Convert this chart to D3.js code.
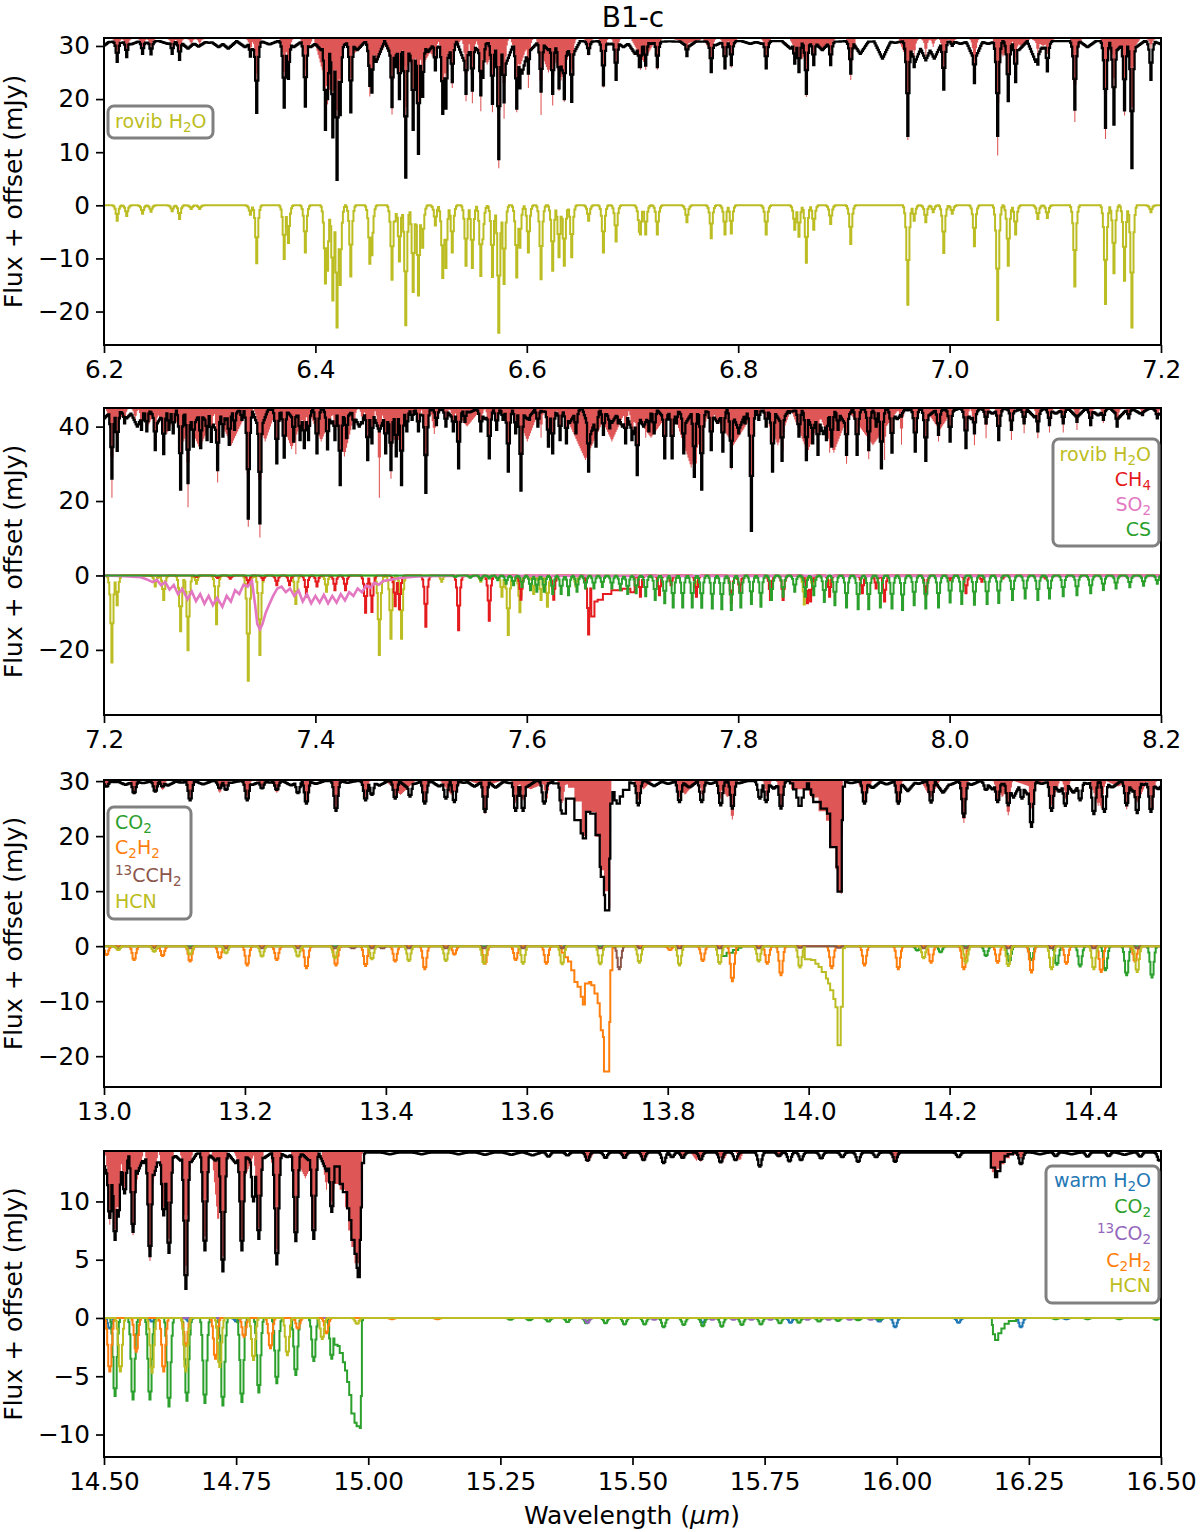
<!DOCTYPE html>
<html>
<head>
<meta charset="utf-8">
<script src="https://cdn.jsdelivr.net/npm/d3@7"></script>
<style>
  html, body { margin: 0; padding: 0; background: #fff; }
  text { font-family: "DejaVu Sans", sans-serif; }
</style>
</head>
<body>
<div id="vis"></div>
<script>
// lines: [wavelength, value at the bottom of a narrow dip]
// bands: [wavelength, value at the bottom, half width] for broad shallow dips
// ripple: [wavelength, value] small continuum dips, half width from the neighbours
// holds: [wavelength, level kept until the next entry], used for the Q branches

// --- panel A, 6.2 - 7.2 um: wavelength, rovib H2O, observed, model
const rowsA = [
  [6.212,-2.9,27,27.5],[6.221,-2,27.9,28.2],[6.236,-1.6,28.5,28.8],[6.244,-1.2,28.4,29],[6.264,-1.1,28.5,29.2],
  [6.271,-2.6,27.4,27.8],[6.282,-.7,30,30.2],[6.29,-.7,30,30.2],[6.338,-1.8,28,28.5],[6.344,-10.9,17.4,19.5],
  [6.37,-10.1,18.4,20],[6.374,-7.1,23.8,24],[6.39,-8.9,18.6,21],[6.409,-14.7,14.2,16],[6.411,-12.3,20,19],
  [6.416,-17.9,12.8,13.5],[6.42,-23,4.8,7],[6.4225,-15,17,17.5],[6.433,-13.4,17.5,18],[6.451,-11,22.5,20.5],
  [6.453,-9.4,21.2,21.5],[6.472,-14,18.5,17.1],[6.475,-3,26,27],[6.479,-10.6,20,20.5],[6.485,-22.6,5.2,8],
  [6.4925,-16.3,14.2,14.5],[6.497,-17,9.7,13.5],[6.501,-8,20.4,22.5],[6.513,-3.8,25.4,27],[6.52,-13.7,17.2,17.5],
  [6.523,-11.8,18.2,19.5],[6.5295,-8.9,23.2,22.1],[6.542,-11.4,21,19.6],[6.548,-11.8,21.6,19.2],[6.556,-13.3,20.7,17.7],
  [6.558,-6.4,24,24.5],[6.567,-13.5,19.1,17.5],[6.573,-24,8.7,7],[6.578,-14.8,19.4,16.3],[6.59,-13.6,18.2,17.5],
  [6.593,-8,22,23],[6.601,-8.9,24.8,22.1],[6.613,-13.9,21.4,17],[6.624,-12.3,21,18.8],[6.63,-9.8,22,21.5],
  [6.635,-11.4,20,19.5],[6.642,-9.8,19.5,21],[6.658,-2.9,28.5,28.2],[6.672,-8.9,22.6,22.2],[6.684,-6.8,23.6,24],
  [6.706,-5,26,27],[6.7075,-5.5,26,25.5],[6.712,-5.5,26.3,25.5],[6.723,-5.5,26,25.5],[6.751,-3.2,28.1,28],
  [6.774,-6.2,25.1,25],[6.787,-5.5,25.8,25.5],[6.793,-5.3,26.4,25.9],[6.826,-5.5,25.8,25.6],[6.853,-4.6,26.7,26.5],
  [6.857,-5.9,25.1,25],[6.864,-10.8,21,20.4],[6.871,-4.6,26.4,26.4],[6.887,-3.5,26.4,27.5],[6.906,-7.3,24.8,23.6],
  [6.96,-18.7,13.1,12.3],[6.966,-2.9,26,27.5],[6.977,-3.2,27.3,28],[6.984,-1.3,29.5,29.8],[6.994,-9,21.8,22.2],
  [7.002,-1.6,30,29.8],[7.023,-7.7,23,23.5],[7.045,-21.6,13.1,9.4],[7.055,-11.4,19.6,19.8],[7.062,-5.5,23.2,25],
  [7.083,-2.6,26.5,28],[7.092,-2.4,25.2,28.5],[7.118,-15.3,18,15.7],[7.147,-18.6,14.6,12.5],[7.155,-12.8,15.2,18],
  [7.165,-14.2,17.9,16.9],[7.172,-23,7,8],[7.19,-1.3,23.6,29.5]
];
const obsRippleA = [
  [6.2,30.1],[6.205,30.75],[6.216,30.6],[6.225,30.3],[6.232,30.9],[6.24,30.6],[6.25,31.1],[6.26,30.4],
  [6.273,30.4],[6.279,29.5],[6.289,29.9],[6.299,30.6],[6.308,29.8],[6.317,29.5],[6.325,30.9],[6.333,29.8],[6.341,29.2],
  [6.348,30.9],[6.356,30.3],[6.365,31.2],[6.379,29.8],[6.385,31.1],[6.395,29.8],[6.405,29.2],[6.413,31.1],[6.424,29.8],
  [6.439,29.2],[6.447,31.1],[6.457,27],[6.466,31.1],[6.473,27.3],[6.481,29.2],[6.489,28.2],[6.506,28.9],[6.514,29.5],
  [6.517,31.1],[6.523,26.7],[6.535,30.9],[6.541,26.7],[6.553,29.2],[6.561,30.4],[6.571,31.2],[6.58,26.7],[6.587,30.8],
  [6.595,24.8],[6.603,29.2],[6.611,30.8],[6.62,29.2],[6.633,25.4],[6.642,27.9],[6.646,30.9],[6.659,30.8],[6.665,31.2],
  [6.678,30.3],[6.691,29.8],[6.702,28.5],[6.717,30.4],[6.728,30.8],[6.741,30.8],[6.752,29.8],[6.765,30.8],[6.778,30.1],
  [6.798,31.1],[6.811,30.4],[6.822,30.4],[6.834,31.1],[6.849,29.5],[6.87,30.1],[6.879,29.2],[6.893,30.8],[6.909,31.1],
  [6.915,28.5],[6.925,30.8],[6.936,27.6],[6.948,30.6],[6.954,31.2],[6.967,27],[6.977,27.3],[6.985,27.6],[6.998,30.8],
  [7.01,30.4],[7.023,27.3],[7.036,30.4],[7.042,31.1],[7.065,29.2],[7.081,27],[7.088,29.5],[7.104,31.1],[7.13,29.8],
  [7.143,31.1],[7.158,29.2],[7.176,29.8],[7.192,30.8],[7.2,30.3]
];
const modelBandsA = [
  [6.371,29,.005],[6.391,28.5,.006],[6.412,21,.014],[6.436,28.5,.014],[6.458,27,.01],[6.475,26,.012],[6.49,26.5,.012],[6.503,27,.012],
  [6.51,28,.007],[6.526,28,.012],[6.562,26.5,.011],[6.593,26,.009],[6.62,25,.012],[6.632,23.5,.012],[6.71,27,.012],[6.752,30.5,.014],
  [6.772,29.5,.006],[6.795,29.5,.004],[6.827,29.5,.004],[6.86,27.5,.012],[6.88,29,.01],[6.907,28,.004],[6.96,27,.009],[7.05,28,.01],
  [7.067,30,.009],[7.088,30,.011],[7.12,29,.005],[7.155,28,.012],[7.168,28,.012]
];

// --- panel B, 7.2 - 8.2 um
const h2oB = [
  [7.2068,-23.4],[7.2124,-8],[7.248,-3],[7.2564,-6.6],[7.2717,-15],[7.279,-20.1],[7.287,-2.2],[7.3065,-13.1],[7.336,-28.3],
  [7.347,-21.4],[7.381,-7.7],[7.41,-4.4],[7.46,-21.4],[7.4707,-17],[7.4814,-17],[7.519,-1.7],[7.556,-1.7],[7.5756,-5.7],
  [7.582,-16],[7.5935,-9.9],[7.606,-5],[7.613,-6.6],[7.619,-8.4],[7.6456,-3],[7.76,-3],[7.862,-7.8],[7.87,-3.5],[7.886,-2.5]
];
const ch4LinesB = [
  [7.287,-.4],[7.307,-.7],[7.319,-.9],[7.336,-2.2],[7.35,-1.2],[7.363,-2.6],[7.375,-2.6],[7.391,-5.7],[7.401,-3],[7.418,-4],
  [7.428,-4],[7.447,-10],[7.4534,-9.8],[7.475,-8.3],[7.4795,-9.1],[7.504,-13.8],[7.5345,-14.7],[7.564,-12.2],[7.594,-6.5],
  [7.625,-6.5],[7.658,-15.9],[7.707,-5.7],[7.725,-5.3],[7.736,-2.6],[7.76,-5.7],[7.793,-7.4],[7.801,-4.4],[7.83,-6.6],
  [7.842,-6.6],[7.865,-7.5],[7.868,-7],[7.886,-5.7],[7.917,-4.8],[7.93,-3.5],[7.938,-7],[7.977,-5.3],[8,-1.3],[8.015,-4.8],
  [8.03,-1.7],[8.05,-.8],[8.09,-.8]
];
const ch4HoldsB = [[7.661,-11],[7.664,-7],[7.667,-6.5],[7.672,-5],[7.68,-4],[7.69,-3.6],[7.698,-4.5],[7.702,0]];
const so2B = [
  [7.2,0],[7.22,-.2],[7.235,-.5],[7.24,-1],[7.246,-1.8],[7.25,-1.2],[7.254,-2.6],[7.258,-1.8],[7.262,-3.8],[7.266,-2.6],
  [7.27,-5],[7.274,-3.6],[7.279,-6.4],[7.283,-4.3],[7.287,-6.9],[7.291,-5],[7.295,-7.6],[7.299,-5.5],[7.303,-8],[7.307,-6],
  [7.312,-8.4],[7.316,-5.5],[7.32,-7],[7.324,-4],[7.328,-5],[7.332,-2.5],[7.336,-3],[7.34,-1.5],[7.343,-8],[7.345,-13],
  [7.3475,-14.5],[7.35,-13],[7.353,-10],[7.356,-8],[7.36,-5.5],[7.364,-3.5],[7.368,-3],[7.372,-4.5],[7.376,-3.5],[7.38,-5.5],
  [7.384,-4],[7.388,-7],[7.392,-5],[7.396,-7.5],[7.4,-5.5],[7.404,-7.3],[7.408,-5.2],[7.412,-7.5],[7.416,-5.5],[7.42,-7.3],
  [7.424,-5],[7.428,-6.7],[7.432,-4.5],[7.436,-5.5],[7.44,-3.5],[7.444,-4.5],[7.448,-2.7],[7.452,-3.3],[7.456,-2],[7.46,-2.5],
  [7.464,-1.5],[7.47,-1.2],[7.48,-.7],[7.5,-.2],[7.52,-.1],[8.2,-.1]
];
const csB = [
  [7.532,-.4],[7.546,-.6],[7.556,-1.3],[7.564,-.8],[7.572,-1.3],[7.58,-2.2],[7.587,-2.6],[7.595,-3.1],[7.603,-4],[7.609,-4.4],
  [7.616,-4.4],[7.624,-5],[7.632,-5],[7.639,-5.3],[7.647,-4.4],[7.655,-3.5],[7.663,-3.5],[7.671,-3.1],[7.68,-3.5],[7.688,-4],
  [7.695,-5],[7.703,-4.8],[7.712,-5.6],[7.721,-6.6],[7.73,-7.5],[7.738,-8.6],[7.747,-8.6],[7.756,-8.6],[7.765,-8.7],[7.775,-8.9],
  [7.784,-9.1],[7.793,-9.3],[7.802,-8.6],[7.812,-7.7],[7.821,-8.4],[7.831,-6.6],[7.842,-5.7],[7.853,-4.4],[7.863,-5.7],
  [7.871,-5.3],[7.881,-7.1],[7.891,-8],[7.902,-8.6],[7.913,-9.1],[7.923,-9.1],[7.934,-8.6],[7.945,-8.9],[7.955,-9.3],[7.966,-8],
  [7.977,-8.9],[7.989,-8.6],[8,-7.3],[8.011,-7.7],[8.023,-7.9],[8.035,-7.7],[8.046,-7.4],[8.059,-6.6],[8.071,-6.2],[8.083,-6.6],
  [8.094,-6.2],[8.107,-5.6],[8.12,-5.3],[8.133,-4.8],[8.145,-3.9],[8.157,-3.5],[8.17,-3.2],[8.183,-2.8],[8.196,-2.2]
];
const obsLinesB = [
  [7.2068,26],[7.2124,33.5],[7.219,40.9],[7.229,41.3],[7.235,39.1],[7.24,38.7],[7.248,33.7],[7.256,32.6],[7.261,39.1],[7.265,38.2],
  [7.272,23.1],[7.279,24.8],[7.284,34.6],[7.291,34.2],[7.297,36.4],[7.301,35.9],[7.307,28.3],[7.312,37.3],[7.318,35.1],
  [7.323,39.1],[7.33,41.8],[7.336,15.3],[7.347,14],[7.363,30.1],[7.37,31.7],[7.379,36],[7.385,36.4],[7.389,34.2],[7.393,36.4],
  [7.401,32.8],[7.411,33.9],[7.418,36.4],[7.423,24.3],[7.429,36.9],[7.436,39.5],[7.444,40.9],[7.449,31],[7.453,35.5],
  [7.466,32.8],[7.471,28.3],[7.476,32],[7.481,24.3],[7.486,38.7],[7.491,41.8],[7.497,38.7],[7.504,22.2],[7.514,40.4],
  [7.523,40],[7.53,38.7],[7.535,28.8],[7.541,41.3],[7.556,38.7],[7.564,31.5],[7.571,39.1],[7.577,41.8],[7.582,27.9],
  [7.589,38.2],[7.594,22.8],[7.602,41.8],[7.61,40],[7.62,34.6],[7.624,32.8],[7.631,36.4],[7.637,35.5],[7.646,38.2],
  [7.658,27.9],[7.665,34.6],[7.672,37.8],[7.678,39.5],[7.686,40.9],[7.693,35.5],[7.699,36.4],[7.7,38.2],[7.704,27],
  [7.71,40.9],[7.715,38.7],[7.72,38.2],[7.73,31.5],[7.737,31.5],[7.741,40.9],[7.748,32.8],[7.758,26.5],[7.765,23.1],
  [7.774,33.7],[7.785,33.3],[7.793,29.2],[7.8,38.2],[7.806,40.9],[7.812,12],[7.819,41.8],[7.826,40],[7.832,27.9],[7.841,30.8],
  [7.848,43.6],[7.857,37.3],[7.864,31],[7.87,35.5],[7.875,32.4],[7.883,36.4],[7.888,34.6],[7.894,39.1],[7.902,32.4],[7.912,32.4],
  [7.923,33.7],[7.93,40],[7.935,28.8],[7.945,33],[7.954,42.7],[7.967,33.3],[7.977,30.8],[7.989,37.8],[8,36],[8.015,34.2],
  [8.023,38.2],[8.034,40.9],[8.046,36.4],[8.058,39.1],[8.07,40.9],[8.083,38.7],[8.094,40.4],[8.107,40.9],[8.12,41.3],
  [8.133,40.4],[8.145,41.8],[8.158,40],[8.169,42.2],[8.182,43.1],[8.196,42.2]
];
const obsRippleB = [
  [7.2,42.2],[7.208,42.7],[7.215,44],[7.221,42.2],[7.231,40],[7.24,43.6],[7.25,40.9],[7.264,44.5],[7.274,42.7],[7.284,40],
  [7.295,41.8],[7.305,39.1],[7.315,41.8],[7.323,43.6],[7.331,44.5],[7.347,38.7],[7.357,44.5],[7.366,43.6],[7.379,41.8],
  [7.389,40],[7.402,44.5],[7.415,40.9],[7.428,41.8],[7.441,40],[7.46,38.7],[7.47,40],[7.49,44],[7.5,43],[7.51,44.5],[7.53,42],
  [7.545,43.8],[7.56,42],[7.575,44.5],[7.6,42],[7.615,44],[7.63,43],[7.64,41],[7.66,38],[7.68,41],[7.69,40],[7.7,38],[7.71,40],
  [7.73,42],[7.74,44],[7.75,41],[7.77,44],[7.78,41],[7.8,39],[7.81,43],[7.82,44],[7.84,41],[7.85,44],[7.87,39],[7.88,38],[7.9,41],
  [7.93,44],[7.95,42],[7.96,44.4],[7.98,43],[8,44],[8.02,42],[8.04,43.5],[8.06,44],[8.08,42.5],[8.1,43.5],[8.12,42.5],[8.14,43],
  [8.16,42.5],[8.18,43.5],[8.2,43]
];
const modelLinesB = [
  [7.2068,20.9],[7.212,36],[7.248,41],[7.256,37],[7.272,29],[7.279,18.3],[7.307,25],[7.336,13.1],[7.347,10.2],[7.381,32.6],
  [7.41,38],[7.46,20.9],[7.471,26],[7.481,26],[7.504,30],[7.535,30],[7.564,32.5],[7.582,27.9],[7.594,31],[7.613,37],[7.619,36],
  [7.658,28],[7.712,37],[7.73,35],[7.76,30.1],[7.793,28.5],[7.83,36],[7.842,33.5],[7.865,33],[7.886,33],[7.902,30],[7.923,31.2],
  [7.938,31],[7.954,35.1],[7.977,34],[7.989,36],[8.015,37],[8.023,35],[8.034,36.9],[8.058,36.4],[8.07,38.2],[8.083,36.9],
  [8.094,38.4],[8.107,38.4],[8.12,39.1],[8.133,40],[8.145,41],[8.158,40.5],[8.17,42.5],[8.183,43],[8.196,42.5]
];
const modelBandsB = [
  [7.21,38,.009],[7.241,40,.008],[7.259,38,.011],[7.275,36,.012],[7.29,34,.016],[7.32,35,.016],[7.352,36,.011],[7.377,34,.014],[7.405,36,.013],
  [7.427,32,.011],[7.476,35,.014],[7.512,38,.004],[7.543,40,.014],[7.6,36,.012],[7.655,31,.022],[7.68,36,.014],[7.717,37,.02],[7.755,29,.018],
  [7.795,35,.022],[7.837,35,.013],[7.865,33,.016],[7.89,33,.016],[7.927,35,.025],[7.99,39,.014]
];

// --- panel C, 13.0 - 14.5 um
const co2C = [[14.153,-.8],[14.187,-1.1],[14.251,-1.8],[14.284,-2.8],[14.316,-2.5],[14.351,-3.4],[14.384,-3.7],[14.42,-4.4],[14.451,-5.3],[14.487,-5.7]];
const co2HoldsC = [[13.877,-1.8],[13.884,-1.2],[13.892,-.7],[13.9,-.3],[13.905,0]];
const c2h2C = [
  [13.003,-1.6],[13.042,-2.5],[13.082,-1.8],[13.122,-2.8],[13.163,-2.2],[13.203,-3.5],[13.244,-2.5],[13.286,-4],[13.328,-3.5],
  [13.37,-3.6],[13.412,-2.8],[13.454,-4.2],[13.496,-1.5],[13.54,-3.2],[13.583,-2.5],[13.627,-3.2],[13.803,-.7],[13.849,-2.7],
  [13.891,-6.4],[13.94,-3.2],[13.96,-5.3],[14.032,-4],[14.079,-3.5],[14.126,-4.2],[14.173,-3],[14.219,-4.2],[14.267,-3],
  [14.316,-4.8],[14.365,-3.2],[14.414,-4.7],[14.463,-2.8]
];
const c2h2HoldsC = [
  [13.649,-1.2],[13.654,-2],[13.659,-2.8],[13.663,-4.4],[13.668,-6.5],[13.672,-7.4],[13.676,-9.2],[13.679,-10.6],[13.682,-6.8],
  [13.688,-6.5],[13.692,-7.1],[13.696,-8.6],[13.7,-10.4],[13.703,-12.8],[13.705,-15.3],[13.708,-16.5],[13.709,-22.8],[13.717,-13.8],
  [13.719,-4.4],[13.721,-.4],[13.723,0]
];
const brownC = [
  [13.02,-.4],[13.071,-.4],[13.122,-.4],[13.173,-.4],[13.223,-.4],[13.275,-.4],[13.327,-.4],[13.353,-.4],[13.38,-.4],[13.395,-.4],
  [13.432,-.4],[13.485,-.4],[13.539,-.4],[13.594,-.4],[13.649,-.4],[13.704,-.4],[13.73,-4.2],[13.76,-.4],[13.816,-.4],[13.873,-.4],
  [13.929,-.4],[13.987,-.3],[14.042,-.3],[14.163,-.4],[14.222,-.4],[14.283,-.4],[14.344,-.4],[14.404,-.4],[14.466,-.4]
];
const hcnC = [
  [13.02,-.7],[13.071,-1],[13.122,-1.5],[13.173,-1.3],[13.223,-1.9],[13.275,-1.9],[13.327,-2.2],[13.38,-2.4],[13.432,-2.7],[13.485,-2.7],
  [13.539,-3.2],[13.594,-3.2],[13.649,-3.3],[13.704,-3.3],[13.759,-3],[13.816,-3.5],[13.873,-3.2],[13.929,-2.8],[13.987,-3.9],
  [14.163,-2.2],[14.222,-3],[14.283,-3.6],[14.344,-4.2],[14.404,-4.2],[14.466,-4.7]
];
const hcnHoldsC = [
  [13.995,-2.4],[14,-2.4],[14.004,-2.5],[14.009,-3.2],[14.014,-3.8],[14.019,-4.7],[14.024,-5.9],[14.028,-6.8],[14.031,-8],[14.035,-9.6],
  [14.038,-11.1],[14.041,-18],[14.046,-11],[14.049,-.4],[14.051,0]
];
const obsLinesC = [
  [13.003,29],[13.042,27.8],[13.072,28.1],[13.082,29],[13.122,26.5],[13.163,28.7],[13.173,28.4],[13.203,26.5],[13.223,28.7],
  [13.244,28.4],[13.275,27.8],[13.286,25.9],[13.328,24.6],[13.37,26.5],[13.38,27.5],[13.412,26.8],[13.434,27.2],[13.454,25.9],
  [13.485,26.8],[13.496,26.2],[13.54,24.4],[13.583,24.6],[13.594,24.6],[13.624,25.9],[13.649,24.1],[13.758,25.6],[13.816,26.2],
  [13.848,26.2],[13.874,25.6],[13.891,25],[13.93,26.8],[13.939,26.2],[13.96,25],[14.078,25.9],[14.126,25.9],
  [14.173,26.1],[14.219,23.5],[14.251,28.4],[14.267,26.2],[14.283,25.6],[14.302,26.8],[14.316,21.7],[14.344,24.6],[14.363,25.5],
  [14.384,26.5],[14.404,24],[14.419,24.4],[14.451,25.6],[14.466,24.2],[14.485,24.4]
];
const obsRippleC = [
  [13,29.4],[13.015,29.8],[13.03,29.3],[13.055,29.6],[13.09,29.2],[13.11,29.7],[13.14,29.4],[13.18,29.7],[13.21,29.3],[13.235,29.7],
  [13.265,29.2],[13.3,29.5],[13.345,29.7],[13.39,29.2],[13.43,28.8],[13.44,29.5],[13.475,29],[13.51,29.7],[13.525,29],[13.555,28.8],
  [13.575,29.6],[13.6,29],[13.63,29.6],[13.75,29.6],[13.78,29.1],[13.8,29.5],[13.83,28.8],[13.86,29.5],[13.9,29.6],[13.95,28.6],
  [14.06,29.6],[14.09,28.7],[14.11,29.4],[14.14,28.2],[14.155,29.5],[14.19,27.8],[14.2,29.3],[14.23,29.3],
  [14.26,28.5],[14.275,29.4],[14.29,27],[14.31,27.5],[14.33,29.5],[14.355,28],[14.375,27.8],[14.395,29.5],[14.43,28.8],[14.46,28],
  [14.475,29.3],[14.495,28.5]
];
const obsHoldsC = [
  [13.638,29.6],[13.646,26.5],[13.651,24.1],[13.656,26.8],[13.668,22.9],[13.676,20.5],[13.679,19.6],[13.684,24.4],[13.69,24.1],
  [13.698,20.2],[13.703,14.4],[13.705,12.6],[13.71,9.3],[13.711,6.5],[13.717,15.9],[13.719,25.9],[13.721,28],[13.725,26.5],[13.728,25.9],
  [13.732,27.2],[13.737,28.4],[13.746,30.2],
  [13.974,29.6],[13.978,28.5],[13.982,27],[13.986,25.5],[13.99,27],[13.993,28.5],[13.997,29.6],[14,28.5],[14.004,27.5],[14.007,26.2],
  [14.017,25],[14.026,24.1],[14.031,18],[14.039,14.4],[14.041,9.9],[14.047,22.9],[14.049,29],[14.052,30.2]
];
const modelLinesC = [
  [13.003,29.3],[13.042,27.6],[13.072,28.3],[13.082,28.4],[13.122,27],[13.163,27.9],[13.173,29],[13.203,27],[13.223,29],[13.244,27.9],
  [13.286,26.2],[13.328,24.9],[13.37,26.4],[13.412,27],[13.454,26],[13.496,28],[13.54,24],[13.583,26],[13.594,26.5],[13.627,26.5],
  [13.649,26],[13.758,26.5],[13.816,27],[13.849,27.4],[13.873,26.5],[13.891,23],[13.94,27],[13.96,25],[14.079,26],[14.126,25.6],
  [14.173,27],[14.219,22.4],[14.267,26.5],[14.283,23.8],[14.316,25],[14.344,25.5],[14.365,26.5],[14.414,25],[14.451,24.9],
  [14.463,27],[14.487,24.6]
];
const modelBandsC = [
  [13.42,27.5,.022],[13.492,27.5,.016],[13.54,29,.024],[13.605,28.5,.028],[13.765,28.5,.012],[13.824,27.5,.016],[13.884,27,.016],
  [14.079,27,.011],[14.172,27,.014],[14.274,27,.013],[14.313,29,.024],[14.346,26.5,.01],[14.41,25.5,.012],[14.438,29,.018],[14.466,26,.014]
];
const modelHoldsC = [
  [13.644,29.4],[13.659,28.8],[13.668,26.3],[13.678,20],[13.685,24.4],[13.698,19.9],[13.705,13.8],[13.71,10],[13.715,7],[13.718,15.9],
  [13.719,25.7],[13.72,30.3],[13.975,28.5],[14,27.5],[14.004,27],[14.014,24.5],[14.024,22.8],[14.031,18],[14.038,14],[14.041,10],
  [14.045,9.5],[14.047,20],[14.049,30.3],[14.05,30.3]
];

// --- panel D, 14.5 - 16.5 um
const blueD = [[14.51,-.9],[14.59,-.3],[14.66,-.3],[14.75,-.3],[15.632,-.4],[15.798,-.4],[15.966,-.3],[15.996,-.8],[16.116,-.4],[16.233,-.8],[16.32,-.1]];
const co2D = [
  [14.519,-6.7],[14.554,-7],[14.586,-7],[14.621,-7.6],[14.656,-7.1],[14.689,-7.3],[14.724,-7.5],[14.759,-7.2],[14.793,-6.4],[14.826,-5.6],
  [14.861,-4.9],[14.896,-3.7],[14.931,-3.5],[15.268,-.15],[15.304,-.2],[15.34,-.3],[15.376,-.35],[15.412,-.45],[15.449,-.45],
  [15.485,-.55],[15.521,-.55],[15.559,-.8],[15.595,-.6],[15.632,-.7],[15.668,-.75],[15.706,-.6],[15.742,-.55],[15.778,-.45],
  [15.815,-.4],[15.852,-.3],[15.888,-.25],[15.927,-.2],[15.966,-.15],[16.3,-.1],[16.36,-.1],[16.42,-.1],[16.49,-.15]
];
const co2HoldsD = [
  [14.937,-2.3],[14.941,-2.4],[14.946,-3],[14.951,-3.8],[14.956,-4.5],[14.96,-5.5],[14.964,-6.6],[14.968,-8.2],[14.973,-9],[14.978,-9.3],
  [14.984,-9.45],[14.986,-6.7],[14.988,-.2],[14.99,0],
  [16.18,-.6],[16.182,-1.4],[16.186,-1.9],[16.192,-1.3],[16.198,-.9],[16.204,-.5],[16.212,-.25],[16.225,0]
];
const c13D = [[15.415,-.4],[15.54,-.15],[15.65,-.15],[15.69,-.15],[15.725,-.15],[15.76,-.15],[15.83,-.15],[15.87,-.15],[15.91,-.15],[15.95,-.15]];
const c2h2D = [[14.511,-4.6],[14.561,-2.9],[14.611,-4.6],[14.655,-2.4],[14.71,-3.5],[14.764,-1.6],[14.815,-2.6],[14.866,-.9],[14.921,-1.3],[15.045,-.1],[15.13,-.1]];
const hcnD = [[14.53,-4.6],[14.59,-4.7],[14.655,-4.6],[14.719,-4.2],[14.782,-3.6],[14.847,-3.2],[14.912,-1.8],[14.978,-.5]];
const obsLinesD = [
  [14.51,8.6],[14.519,6.7],[14.527,8.7],[14.538,10.7],[14.554,7.4],[14.587,5.3],[14.611,8.8],[14.621,5.6],[14.654,2.5],[14.689,5.8],
  [14.724,4],[14.759,5.8],[14.782,10],[14.793,6.8],[14.826,4.6],[14.861,6.6],[14.896,6.8],[14.931,9.1],[15.34,13.85],[15.375,13.95],
  [15.413,13.5],[15.448,13.75],[15.484,13.75],[15.52,13.55],[15.557,13.3],[15.574,13.8],[15.593,13.75],[15.629,13.6],[15.666,13.35],
  [15.694,13.55],[15.74,13],[15.775,13.9],[15.796,13.45],[15.817,13.55],[15.855,13.7],[15.896,13.8],[15.927,13.4],[15.96,13.8],
  [15.997,13.4],[16.116,13.8],[16.233,13.2],[16.3,13.9],[16.36,13.85],[16.4,13.9],[16.46,13.85],[16.495,13.5]
];
const obsRippleD = [
  [14.502,12.7],[14.508,11.8],[14.533,12.4],[14.546,14],[14.562,12.4],[14.574,13.3],[14.581,14.3],[14.593,12.1],[14.603,13.3],
  [14.628,13.7],[14.644,13.5],[14.65,14.3],[14.663,13.3],[14.675,14.1],[14.697,14.1],[14.71,13.5],[14.735,14.1],[14.748,13.3],
  [14.764,13.7],[14.776,13.5],[14.801,13.7],[14.82,14.1],[14.846,13.8],[14.871,14],[14.887,13.5],[14.905,14.1],[14.921,12.5],
  [15.04,14.05],[15.1,14.05],[15.17,14.05],[15.22,14],[15.27,14],[15.31,13.95],[16.27,14.05],[16.33,14.05],[16.43,14]
];
const obsHoldsD = [
  [14.937,13],[14.946,11.5],[14.951,10.8],[14.96,9.4],[14.964,8.4],[14.968,6.7],[14.973,5.5],[14.978,4.3],[14.981,3.5],[14.984,6.7],
  [14.986,9.5],[14.988,13.3],[14.992,14.1],[14.995,14.3],
  [16.178,12.9],[16.186,12.1],[16.19,12.6],[16.196,13.4],[16.205,13.9],[16.21,14.05],[16.22,14.3]
];
const modelLinesD = [
  [14.51,8],[14.519,6.9],[14.527,9],[14.538,11],[14.554,7.1],[14.587,4.9],[14.611,9],[14.621,6],[14.654,3.4],[14.689,6.2],[14.724,4.3],
  [14.759,6],[14.793,7],[14.826,5],[14.861,6.8],[14.896,7],[14.931,9.5],[15.413,13.55],[15.484,13.7],[15.52,13.6],[15.593,13.65],
  [15.629,13.4],[15.703,13.55],[15.775,13.8],[15.997,13.3],[16.233,13.7]
];
const modelBandsD = [
  [14.513,10.5,.012],[14.56,11.5,.014],[14.59,11,.012],[14.617,10,.009],[14.655,10.5,.012],[14.715,8,.012],[14.765,12,.02],[14.787,9.5,.004],
  [14.822,10.5,.008],[14.88,12,.025],[14.92,11,.01],[15.415,13.3,.012],[15.62,13.5,.012],[15.67,13.4,.01]
];
const modelHoldsD = [
  [14.931,11],[14.937,11.5],[14.946,11],[14.956,9.5],[14.962,7.5],[14.968,6.1],[14.975,4.7],[14.983,4],[14.986,11.8],[14.988,14.1],[14.99,14.35],
  [16.18,12.5],[16.19,12.8],[16.198,13.2],[16.205,13.7],[16.215,14],[16.24,14.35]
];

// ticks
const xTicksA = [6.2,6.4,6.6,6.8,7.0,7.2];
const xTicksB = [7.2,7.4,7.6,7.8,8.0,8.2];
const xTicksC = [13.0,13.2,13.4,13.6,13.8,14.0,14.2,14.4];
const xTicksD = [14.5,14.75,15,15.25,15.5,15.75,16,16.25,16.5];
const yTicksA = [-20,-10,0,10,20,30];
const yTicksB = [-20,0,20,40];
const yTicksC = [-20,-10,0,10,20,30];
const yTicksD = [-10,-5,0,5,10];

const OLIVE = '#bcbd22', RED = '#e41a1c', PINK = '#e377c2', GREEN = '#2ca02c',
      ORANGE = '#ff7f0e', BROWN = '#8c564b', BLUE = '#1f77b4', PURPLE = '#9467bd';

// profile of a narrow dip, centre bin outwards
const narrowDip = [1, 0.55, 0.22, 0.08, 0.02];
const wideDip = [1, 0.9, 0.5, 0.2, 0.05];

function spectrum(p, base, parts) {
    const n = Math.round((p.x[1] - p.x[0]) / p.bin);
    const index = w => Math.round((w - p.x[0]) / p.bin);
    const ys = new Array(n + 1).fill(base);
    (parts.lines || []).forEach(([w, v]) => {
        if (v >= base) return;
        const c = index(w);
        for (let k = -4; k <= 4; k++) {
            const i = c + k;
            if (i >= 0 && i <= n) ys[i] = Math.min(ys[i], base - (base - v) * p.dip[Math.abs(k)]);
        }
    });
    const bands = (parts.bands || []).concat((parts.ripple || []).map((r, j, all) => {
        const prev = j > 0 ? r[0] - all[j - 1][0] : 0;
        const next = j < all.length - 1 ? all[j + 1][0] - r[0] : 0;
        return [r[0], r[1], Math.min(Math.max(prev, next), p.rippleCap)];
    }));
    bands.forEach(([w, v, hw]) => {
        if (v >= base) return;
        const from = Math.max(index(w - hw), 0), to = Math.min(index(w + hw), n);
        for (let i = from; i <= to; i++) {
            const d = Math.abs(p.x[0] + i * p.bin - w) / hw;
            ys[i] = Math.min(ys[i], base - (base - v) * (1 - d));
        }
    });
    (parts.holds || []).forEach((h, j, all) => {
        if (j === all.length - 1) return;
        for (let i = Math.max(index(h[0]), 0); i < index(all[j + 1][0]) && i <= n; i++) {
            ys[i] = Math.min(ys[i], h[1]);
        }
    });
    return ys.map((y, i) => ({x: p.x[0] + i * p.bin, y: y}));
}

const panels = [
    {
        top: 38, bottom: 345, x: [6.2, 7.2], y: [-26.3, 31.5], bin: 0.001, dip: narrowDip, rippleCap: 0.008, xTicks: xTicksA, yTicks: yTicksA, xFmt: '.1f',
        obsBase: 30.9, obs: {lines: rowsA.map(r => [r[0], r[2]]), ripple: obsRippleA},
        modelBase: 31.3, model: {lines: rowsA.map(r => [r[0], r[3]]), bands: modelBandsA},
        species: [{color: OLIVE, parts: {lines: rowsA.map(r => [r[0], r[1]])}}]
    },
    {
        top: 408, bottom: 715, x: [7.2, 8.2], y: [-37.5, 45], bin: 0.001, dip: narrowDip, rippleCap: 0.008, xTicks: xTicksB, yTicks: yTicksB, xFmt: '.1f',
        obsBase: 44.8, obs: {lines: obsLinesB, ripple: obsRippleB},
        modelBase: 44.9, model: {lines: modelLinesB.concat(obsLinesB), bands: modelBandsB},
        species: [
            {color: OLIVE, parts: {lines: h2oB}},
            {color: RED, parts: {lines: ch4LinesB, holds: ch4HoldsB}},
            {color: PINK, knots: so2B},
            {color: GREEN, parts: {lines: csB}}
        ]
    },
    {
        top: 780, bottom: 1087, x: [13, 14.5], y: [-25.6, 30.2], bin: 0.0015, dip: wideDip, rippleCap: 0.012, xTicks: xTicksC, yTicks: yTicksC, xFmt: '.1f',
        obsBase: 30, obs: {lines: obsLinesC, ripple: obsRippleC, holds: obsHoldsC},
        modelBase: 30.1, model: {lines: modelLinesC, bands: modelBandsC, holds: modelHoldsC},
        species: [
            {color: GREEN, parts: {lines: co2C, holds: co2HoldsC}},
            {color: ORANGE, parts: {lines: c2h2C, holds: c2h2HoldsC}},
            {color: BROWN, parts: {lines: brownC}},
            {color: OLIVE, parts: {lines: hcnC, holds: hcnHoldsC}}
        ]
    },
    {
        top: 1151, bottom: 1457, x: [14.5, 16.5], y: [-11.93, 14.33], bin: 0.002, dip: wideDip, rippleCap: 0.016, xTicks: xTicksD, yTicks: yTicksD, xFmt: '.2f',
        obsBase: 14.2, obs: {lines: obsLinesD, ripple: obsRippleD, holds: obsHoldsD},
        modelBase: 14.25, model: {lines: modelLinesD, bands: modelBandsD, holds: modelHoldsD},
        species: [
            {color: BLUE, parts: {lines: blueD}},
            {color: GREEN, parts: {lines: co2D, holds: co2HoldsD}},
            {color: PURPLE, parts: {lines: c13D}},
            {color: ORANGE, parts: {lines: c2h2D}},
            {color: OLIVE, parts: {lines: hcnD}}
        ]
    }
];

// legends: text pieces are [string, kind] with kind '', 'sub' or 'sup'
const legends = [
    {x: 108, y: 106, w: 105, h: 32, anchor: 'start', textX: 115, rows: [
        {color: OLIVE, y: 128, parts: [['rovib H',''],['2','sub'],['O','']]}
    ]},
    {x: 1053, y: 439, w: 106, h: 107, anchor: 'end', textX: 1151, rows: [
        {color: OLIVE, y: 461, parts: [['rovib H',''],['2','sub'],['O','']]},
        {color: RED, y: 486, parts: [['CH',''],['4','sub']]},
        {color: PINK, y: 511, parts: [['SO',''],['2','sub']]},
        {color: GREEN, y: 536, parts: [['CS','']]}
    ]},
    {x: 108, y: 807, w: 83, h: 112, anchor: 'start', textX: 115, rows: [
        {color: GREEN, y: 829, parts: [['CO',''],['2','sub']]},
        {color: ORANGE, y: 854, parts: [['C',''],['2','sub'],['H',''],['2','sub']]},
        {color: BROWN, y: 882, parts: [['13','sup'],['CCH',''],['2','sub']]},
        {color: OLIVE, y: 908, parts: [['HCN','']]}
    ]},
    {x: 1046, y: 1166, w: 113, h: 137, anchor: 'end', textX: 1151, rows: [
        {color: BLUE, y: 1187, parts: [['warm H',''],['2','sub'],['O','']]},
        {color: GREEN, y: 1213, parts: [['CO',''],['2','sub']]},
        {color: PURPLE, y: 1240, parts: [['13','sup'],['CO',''],['2','sub']]},
        {color: ORANGE, y: 1267, parts: [['C',''],['2','sub'],['H',''],['2','sub']]},
        {color: OLIVE, y: 1292, parts: [['HCN','']]}
    ]}
];

const width = 1200, height = 1532;
const margin = {left: 104, right: 1161};
const svg = d3.select('#vis').append('svg').attr('width', width).attr('height', height).style('display', 'block');
const fmtMinus = f => d => d3.format(f)(d).replace('-', '\u2212');

panels.forEach((p, idx) => {
    const xScale = d3.scaleLinear().domain(p.x).range([margin.left, margin.right]);
    const yScale = d3.scaleLinear().domain(p.y).range([p.bottom, p.top]);
    const clipId = 'clip' + idx;

    svg.append('clipPath').attr('id', clipId).append('rect')
        .attr('x', margin.left).attr('y', p.top)
        .attr('width', margin.right - margin.left).attr('height', p.bottom - p.top);

    const g = svg.append('g').attr('clip-path', `url(#${clipId})`);

    const line = d3.line().x(d => xScale(d.x)).y(d => yScale(d.y)).curve(d3.curveStepAfter);
    const knotLine = d3.line().x(d => xScale(d[0])).y(d => yScale(d[1]));
    const area = d3.area().x(d => xScale(d.x)).y0(p.top).y1(d => yScale(d.y)).curve(d3.curveStepAfter);

    p.species.forEach(s => {
        const d = s.knots ? knotLine(s.knots) : line(spectrum(p, 0, s.parts));
        g.append('path')
            .attr('d', d)
            .attr('fill', 'none').attr('stroke', s.color).attr('stroke-width', s.knots ? 2.6 : 2);
    });

    g.append('path')
        .attr('d', area(spectrum(p, p.modelBase, p.model)))
        .attr('fill', '#d62728').attr('fill-opacity', 0.78);

    g.append('path')
        .attr('d', line(spectrum(p, p.obsBase, p.obs)))
        .attr('fill', 'none').attr('stroke', '#000').attr('stroke-width', 2.3);

    svg.append('rect')
        .attr('x', margin.left).attr('y', p.top)
        .attr('width', margin.right - margin.left).attr('height', p.bottom - p.top)
        .attr('fill', 'none').attr('stroke', '#000').attr('stroke-width', 2);

    const xAxis = svg.append('g')
        .attr('transform', `translate(0, ${p.bottom})`)
        .call(d3.axisBottom(xScale).tickValues(p.xTicks).tickFormat(d3.format(p.xFmt)).tickSize(8).tickPadding(7));
    const yAxis = svg.append('g')
        .attr('transform', `translate(${margin.left}, 0)`)
        .call(d3.axisLeft(yScale).tickValues(p.yTicks).tickFormat(fmtMinus('d')).tickSize(8).tickPadding(6));
    [xAxis, yAxis].forEach(a => {
        a.select('.domain').remove();
        a.selectAll('.tick line').attr('stroke', '#000').attr('stroke-width', 1.7);
        a.selectAll('.tick text').attr('font-family', '"DejaVu Sans"').attr('font-size', 24.7).attr('fill', '#000');
    });

    svg.append('text')
        .attr('transform', `translate(22, ${(p.top + p.bottom) / 2}) rotate(-90)`)
        .attr('text-anchor', 'middle').attr('font-size', 25)
        .text('Flux + offset (mJy)');
});

// legends
legends.forEach(l => {
    svg.append('rect')
        .attr('x', l.x).attr('y', l.y).attr('width', l.w).attr('height', l.h).attr('rx', 6)
        .attr('fill', '#fff').attr('fill-opacity', 0.9).attr('stroke', '#808080').attr('stroke-width', 3);
    l.rows.forEach(r => {
        const t = svg.append('text')
            .attr('x', l.textX).attr('y', r.y).attr('text-anchor', l.anchor)
            .attr('font-size', 19).attr('fill', r.color);
        let shift = 0;
        r.parts.forEach(([s, kind]) => {
            const want = kind === 'sub' ? 4 : kind === 'sup' ? -7 : 0;
            t.append('tspan')
                .attr('dy', want - shift)
                .attr('font-size', kind ? 13.5 : 19)
                .text(s);
            shift = want;
        });
    });
});

svg.append('text').attr('x', 633).attr('y', 27).attr('text-anchor', 'middle').attr('font-size', 28).text('B1-c');

const xl = svg.append('text').attr('x', 632).attr('y', 1524).attr('text-anchor', 'middle').attr('font-size', 25);
xl.append('tspan').text('Wavelength (');
xl.append('tspan').attr('font-style', 'italic').text('\u03bcm');
xl.append('tspan').text(')');
</script>
</body>
</html>
